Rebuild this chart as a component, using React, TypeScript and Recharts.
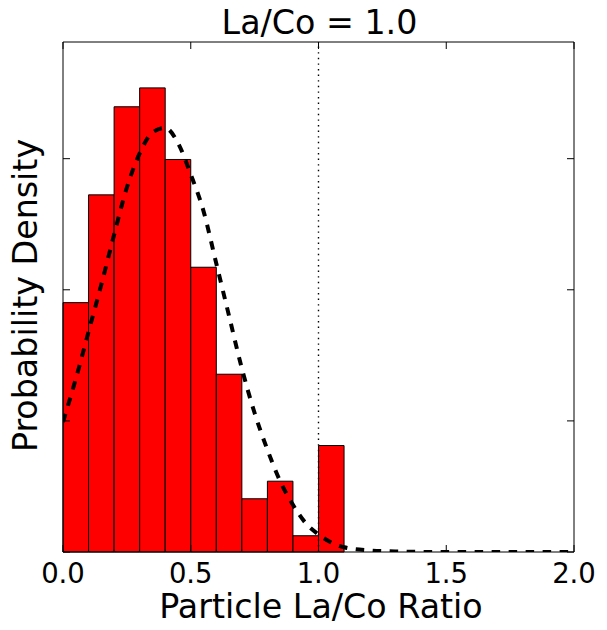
import React from 'react';
import {
  ComposedChart,
  XAxis,
  YAxis,
  Line,
  ReferenceArea,
  ReferenceLine,
} from 'recharts';

// Histogram bin edges (La/Co ratio)
const binEdges = [0.0, 0.1, 0.2, 0.3, 0.4, 0.5, 0.6, 0.7, 0.8, 0.9, 1.0, 1.1];
// Probability density for each bin
const densities = [0.951, 1.362, 1.698, 1.77, 1.497, 1.086, 0.678, 0.203, 0.27, 0.062, 0.406];

// Fitted curve
const curveX = [
  0.0, 0.05, 0.1, 0.15, 0.2, 0.25, 0.3, 0.35, 0.4, 0.45, 0.5, 0.55, 0.6, 0.65, 0.7, 0.75,
  0.8, 0.85, 0.9, 0.95, 1.0, 1.05, 1.1, 1.2, 1.3, 1.4, 1.5, 1.6, 1.7, 1.8, 1.9, 2.0,
];
const curveY = [
  0.496, 0.66, 0.84, 1.02, 1.21, 1.39, 1.52, 1.6, 1.617, 1.56, 1.44, 1.3, 1.1, 0.9, 0.7,
  0.53, 0.39, 0.27, 0.18, 0.11, 0.067, 0.036, 0.018, 0.006, 0.002, 0.0005, 0, 0, 0, 0, 0, 0,
];

const xTicks = [0.0, 0.5, 1.0, 1.5, 2.0];
const yTicks = [0.0, 0.5, 1.0, 1.5];
const xDomain = [0, 2];
const yDomain = [0, 1.945];
const markerX = 1.0;

const titleText = 'La/Co = 1.0';
const xLabelText = 'Particle La/Co Ratio';
const yLabelText = 'Probability Density';

const FONT = 'DejaVu Sans';

const curveData = curveX.map((x, i) => ({ x, y: curveY[i] }));

const BottomTick = (props: any) => {
  const { x, y, payload } = props;
  return (
    <g>
      <line x1={x} y1={y} x2={x} y2={y - 7} stroke="#000" strokeWidth={1} />
      <text
        x={x}
        y={y + 31}
        textAnchor="middle"
        fontFamily={FONT}
        fontSize={27.5}
        fill="#000"
      >
        {Number(payload.value).toFixed(1)}
      </text>
    </g>
  );
};

const TopTick = (props: any) => {
  const { x, y } = props;
  return <line x1={x} y1={y} x2={x} y2={y + 7} stroke="#000" strokeWidth={1} />;
};

const LeftTick = (props: any) => {
  const { x, y } = props;
  return <line x1={x} y1={y} x2={x + 7} y2={y} stroke="#000" strokeWidth={1} />;
};

const RightTick = (props: any) => {
  const { x, y } = props;
  return <line x1={x} y1={y} x2={x - 7} y2={y} stroke="#000" strokeWidth={1} />;
};

export default function App() {
  return (
    <div style={{ position: 'absolute', left: 0, top: 0, width: 607, height: 630, background: '#fff' }}>
      <ComposedChart
        width={607}
        height={630}
        margin={{ top: 0, right: 0, bottom: 0, left: 0 }}
      >
        <XAxis
          xAxisId="b"
          dataKey="x"
          type="number"
          domain={xDomain}
          ticks={xTicks}
          allowDataOverflow
          orientation="bottom"
          height={78}
          tickSize={0}
          tickMargin={0}
          tickLine={false}
          axisLine={{ stroke: '#000', strokeWidth: 1 }}
          tick={<BottomTick />}
          interval={0}
        />
        <XAxis
          xAxisId="t"
          dataKey="x"
          type="number"
          domain={xDomain}
          ticks={xTicks}
          allowDataOverflow
          orientation="top"
          height={42}
          tickSize={0}
          tickMargin={0}
          tickLine={false}
          axisLine={{ stroke: '#000', strokeWidth: 1 }}
          tick={<TopTick />}
          interval={0}
        />
        <YAxis
          yAxisId="l"
          type="number"
          domain={yDomain}
          ticks={yTicks}
          allowDataOverflow
          orientation="left"
          width={63}
          tickSize={0}
          tickMargin={0}
          tickLine={false}
          axisLine={{ stroke: '#000', strokeWidth: 1 }}
          tick={<LeftTick />}
          interval={0}
        />
        <YAxis
          yAxisId="r"
          type="number"
          domain={yDomain}
          ticks={yTicks}
          allowDataOverflow
          orientation="right"
          width={33}
          tickSize={0}
          tickMargin={0}
          tickLine={false}
          axisLine={{ stroke: '#000', strokeWidth: 1 }}
          tick={<RightTick />}
          interval={0}
        />
        {densities.map((d, i) => (
          <ReferenceArea
            key={i}
            xAxisId="b"
            yAxisId="l"
            x1={binEdges[i]}
            x2={binEdges[i + 1]}
            y1={0}
            y2={d}
            fill="#ff0000"
            fillOpacity={1}
            stroke="#000"
            strokeWidth={1}
            ifOverflow="visible"
          />
        ))}
        <ReferenceLine
          xAxisId="b"
          yAxisId="l"
          x={markerX}
          stroke="#000"
          strokeWidth={1.4}
          strokeDasharray="1.4 4.2"
        />
        <Line
          xAxisId="b"
          yAxisId="l"
          data={curveData}
          dataKey="y"
          type="monotone"
          stroke="#000"
          strokeWidth={4}
          strokeDasharray="8.5 8.5"
          dot={false}
          activeDot={false}
          isAnimationActive={false}
        />
        <text x={319.5} y={34} textAnchor="middle" fontFamily={FONT} fontSize={33.3} fill="#000">
          {titleText}
        </text>
        <text x={321} y={618} textAnchor="middle" fontFamily={FONT} fontSize={33.3} fill="#000">
          {xLabelText}
        </text>
        <text
          transform="translate(37, 295.5) rotate(-90)"
          textAnchor="middle"
          fontFamily={FONT}
          fontSize={33.3}
          fill="#000"
        >
          {yLabelText}
        </text>
      </ComposedChart>
    </div>
  );
}
